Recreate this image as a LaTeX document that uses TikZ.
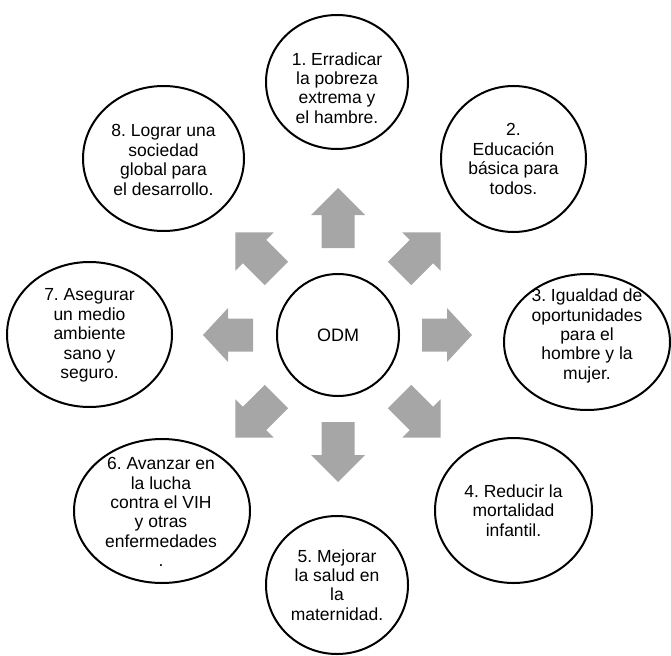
\documentclass[tikz,border=0pt]{standalone}
\usepackage{fontspec}
\setmainfont{Liberation Sans}
\usetikzlibrary{shapes.geometric}
\definecolor{arrowgray}{RGB}{166,166,166}
\tikzset{
  goal/.style={draw=black, line width=2pt, ellipse, inner sep=0pt},
  goaltext/.style={align=center, font=\fontsize{17.5}{19.4}\selectfont\frenchspacing, inner sep=0pt},
  barrow/.style={fill=arrowgray, draw=none},
}
% angle, base distance, length, head length
\newcommand\odmarrow[4]{%
  \fill[barrow, shift={(338,335)}, rotate=#1, shift={(#2,0)}]
    (0,-16.5) -- ({#3-#4},-16.5) -- ({#3-#4},-27) -- (#3,0) -- ({#3-#4},27)
    -- ({#3-#4},16.5) -- (0,16.5) -- cycle;}
\begin{document}
\begin{tikzpicture}[x=1pt,y=-1pt]
\useasboundingbox (0,0) rectangle (671,655);

% central node
\node[goal, circle, minimum size=122pt] (odm) at (338,335) {};
\node[goaltext, font=\fontsize{18}{20}\selectfont] (odmt) at (odm.center) {ODM};

% block arrows
\odmarrow{90}{87}{60}{27}
\odmarrow{270}{87}{60}{27}
\odmarrow{0}{84}{50}{25}
\odmarrow{180}{85}{50}{25}
\odmarrow{45}{87}{58}{27}
\odmarrow{135}{87}{58}{27}
\odmarrow{225}{87}{58}{27}
\odmarrow{315}{87}{58}{27}

% goals
\node[goal, minimum width=142pt, minimum height=134pt] (g1) at (337,82) {};
\node[goaltext] (t1) at (337,88) {1. Erradicar\\la pobreza\\extrema y\\el hambre.};

\node[goal, minimum width=145pt, minimum height=146pt] (g2) at (513.5,159) {};
\node[goaltext] (t2) at (513.5,159) {2.\\Educación\\básica para\\todos.};

\node[goal, minimum width=166pt, minimum height=136pt] (g3) at (587,342) {};
\node[goaltext] (t3) at (587,336) {3. Igualdad de\\oportunidades\\para el\\hombre y la\\mujer.};

\node[goal, minimum width=157pt, minimum height=145pt] (g4) at (513.5,510.5) {};
\node[goaltext] (t4) at (513.5,510.5) {4. Reducir la\\mortalidad\\infantil.};

\node[goal, minimum width=142pt, minimum height=138pt] (g5) at (337,585) {};
\node[goaltext] (t5) at (337,585) {5. Mejorar\\la salud en\\la\\maternidad.};

\node[goal, minimum width=176pt, minimum height=144pt] (g6) at (162,511) {};
\node[goaltext] (t6) at (161,512) {6. Avanzar en\\la lucha\\contra el VIH\\y otras\\enfermedades\\.};

\node[goal, minimum width=165pt, minimum height=145pt] (g7) at (89.5,334.5) {};
\node[goaltext] (t7) at (89.5,335.5) {7. Asegurar\\un medio\\ambiente\\sano y\\seguro.};

\node[goal, minimum width=161pt, minimum height=145pt] (g8) at (163.5,158.5) {};
\node[goaltext] (t8) at (163.5,160) {8. Lograr una\\sociedad\\global para\\el desarrollo.};
\end{tikzpicture}
\end{document}
